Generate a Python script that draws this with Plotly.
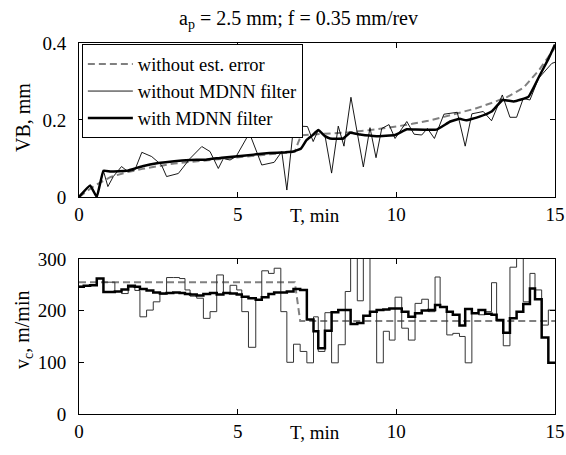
import plotly.graph_objects as go

# ---------------- data ----------------
# top panel: flank wear VB [mm] vs time T [min]
t_ref = [0, 0.5, 1.0, 1.5, 2.0, 2.5, 3.0, 3.5, 4.0, 4.5, 5.0, 5.5, 6.0, 6.5, 6.8, 6.9, 7.0,
         7.5, 8.0, 8.5, 9.0, 9.5, 10.0, 10.5, 11.0, 11.5, 12.0, 12.5, 13.0, 13.5, 14.0, 14.5, 14.8, 15.0]
vb_ref = [0, 0.030, 0.052, 0.064, 0.073, 0.080, 0.087, 0.091, 0.095, 0.100, 0.104, 0.108, 0.112, 0.115,
          0.117, 0.140, 0.160, 0.163, 0.165, 0.168, 0.172, 0.177, 0.183, 0.190, 0.198, 0.208, 0.218,
          0.230, 0.244, 0.260, 0.283, 0.330, 0.365, 0.388]

t_raw = [0, 0.35, 0.56, 0.77, 0.91, 1.08, 1.34, 1.54, 1.76, 1.98, 2.29, 2.6, 2.76, 3.13, 3.5, 3.87,
         4.13, 4.39, 4.55, 4.76, 4.95, 5.37, 5.76, 6.15, 6.39, 6.55, 6.75, 6.91, 7.2, 7.38, 7.54, 7.75,
         7.96, 8.17, 8.35, 8.57, 8.96, 9.17, 9.36, 9.54, 9.77, 9.96, 10.33, 10.56, 10.8, 10.98, 11.2,
         11.5, 11.92, 12.17, 12.38, 12.74, 13.0, 13.34, 13.58, 13.79, 14.0, 14.21, 14.48, 14.9, 15.0]
vb_raw = [0, 0.031, 0.0, 0.068, 0.027, 0.053, 0.079, 0.066, 0.070, 0.116, 0.105, 0.083, 0.053, 0.061,
          0.100, 0.131, 0.118, 0.074, 0.100, 0.096, 0.105, 0.166, 0.083, 0.090, 0.118, 0.018, 0.174,
          0.184, 0.183, 0.144, 0.174, 0.160, 0.062, 0.184, 0.132, 0.259, 0.078, 0.180, 0.102, 0.178,
          0.188, 0.152, 0.196, 0.163, 0.161, 0.178, 0.152, 0.215, 0.220, 0.132, 0.216, 0.222, 0.198,
          0.265, 0.207, 0.207, 0.256, 0.252, 0.308, 0.347, 0.350]

t_mdnn = [0, 0.35, 0.56, 0.77, 1.0, 1.5, 2.0, 2.5, 3.0, 3.5, 4.0, 4.5, 5.0, 5.5, 6.0, 6.5, 6.75, 7.0,
          7.17, 7.35, 7.54, 7.75, 7.91, 8.33, 8.54, 8.86, 9.38, 9.96, 10.33, 10.6, 11.27, 11.7, 12.0,
          12.2, 12.6, 13.0, 13.35, 13.7, 14.16, 14.5, 14.8, 15.0]
vb_mdnn = [0, 0.030, 0.0, 0.068, 0.066, 0.068, 0.080, 0.088, 0.093, 0.096, 0.097, 0.102, 0.106,
           0.110, 0.114, 0.116, 0.118, 0.126, 0.148, 0.160, 0.174, 0.158, 0.152, 0.152, 0.167, 0.162,
           0.158, 0.161, 0.176, 0.175, 0.175, 0.196, 0.203, 0.199, 0.208, 0.222, 0.252, 0.248, 0.260,
           0.313, 0.360, 0.396]

# bottom panel: cutting speed vc [m/min] vs time T [min], step signals
t_step = [0, 0.15, 0.35, 0.56, 0.77, 0.95, 1.13, 1.34, 1.55, 1.76, 1.92, 2.13, 2.34, 2.55, 2.76,
          2.97, 3.17, 3.34, 3.5, 3.71, 3.92, 4.13, 4.34, 4.55, 4.76, 4.97, 5.13, 5.34, 5.57, 5.76,
          5.97, 6.15, 6.36, 6.55, 6.76, 6.97, 7.18, 7.39, 7.54, 7.75, 7.96, 8.17, 8.39, 8.56, 8.77,
          8.96, 9.17, 9.38, 9.59, 9.78, 9.96, 10.17, 10.38, 10.59, 10.8, 11.01, 11.22, 11.38, 11.59,
          11.78, 11.99, 12.17, 12.38, 12.59, 12.8, 13.0, 13.16, 13.37, 13.58, 13.79, 14.0, 14.21,
          14.37, 14.58, 14.79, 15.0]
vc_raw = [247, 248, 250, 262, 255, 255, 237, 233, 245, 239, 188, 201, 217, 232, 264, 264, 262, 240,
          228, 224, 185, 198, 269, 235, 249, 240, 198, 129, 220, 277, 272, 282, 198, 100, 135, 121,
          99, 188, 121, 196, 99, 134, 237, 320, 219, 320, 198, 99, 160, 143, 226, 166, 143, 214, 222,
          198, 265, 207, 153, 156, 150, 99, 195, 192, 198, 254, 182, 132, 284, 320, 217, 272, 240,
          172, 201, 201]
vc_mdnn = [246, 248, 249, 262, 236, 236, 237, 241, 248, 246, 242, 239, 235, 233, 234, 235, 234, 232,
           231, 229, 232, 234, 231, 234, 233, 231, 227, 224, 221, 226, 232, 235, 235, 237, 242, 240,
           183, 160, 127, 161, 197, 201, 201, 174, 176, 190, 198, 201, 202, 204, 204, 198, 188, 195,
           200, 201, 211, 207, 198, 192, 171, 203, 195, 201, 194, 192, 182, 157, 185, 198, 213, 243,
           222, 148, 99, 99]
t_vref = [0, 6.8, 6.97, 15]
vc_ref = [255, 255, 180, 180]

# ---------------- figure ----------------
FONT = "Liberation Serif"
DASH = "7px,4px"
GREY = "#808080"

fig = go.Figure()
fig.add_trace(go.Scatter(x=t_ref, y=vb_ref, mode="lines", name="without est. error",
                         line=dict(color=GREY, width=2, dash=DASH), xaxis="x", yaxis="y"))
fig.add_trace(go.Scatter(x=t_raw, y=vb_raw, mode="lines", name="without MDNN filter",
                         line=dict(color="black", width=0.9), xaxis="x", yaxis="y"))
fig.add_trace(go.Scatter(x=t_mdnn, y=vb_mdnn, mode="lines", name="with MDNN filter",
                         line=dict(color="black", width=2.5, shape="spline", smoothing=0.3),
                         xaxis="x", yaxis="y"))

fig.add_trace(go.Scatter(x=t_vref, y=vc_ref, mode="lines", showlegend=False,
                         line=dict(color=GREY, width=2, dash=DASH), xaxis="x2", yaxis="y2"))
fig.add_trace(go.Scatter(x=t_step, y=vc_raw, mode="lines", showlegend=False,
                         line=dict(color="#333333", width=1, shape="hv"), xaxis="x2", yaxis="y2"))
fig.add_trace(go.Scatter(x=t_step, y=vc_mdnn, mode="lines", showlegend=False,
                         line=dict(color="black", width=2.5, shape="hv"), xaxis="x2", yaxis="y2"))

axis_common = dict(showline=True, linecolor="black", linewidth=1, mirror="ticks",
                   ticks="inside", ticklen=5, tickcolor="black", showgrid=False,
                   zeroline=False, automargin=False,
                   tickfont=dict(family=FONT, size=19, color="black"))

fig.update_layout(
    width=566, height=455,
    margin=dict(l=79, r=11, t=43, b=41),
    paper_bgcolor="white", plot_bgcolor="white",
    font=dict(family=FONT, size=19, color="black"),
    xaxis=dict(domain=[0, 1], anchor="y", range=[0, 15], tickvals=[0, 5, 10, 15],
               ticklabeloverflow="allow", **axis_common),
    yaxis=dict(domain=[0.585, 1], anchor="x", range=[0, 0.4], tickvals=[0, 0.2, 0.4],
               ticktext=["0", "0.2", "0.4"], ticklabelstandoff=8, **axis_common),
    xaxis2=dict(domain=[0, 1], anchor="y2", range=[0, 15], tickvals=[0, 5, 10, 15],
                ticklabeloverflow="allow", **axis_common),
    yaxis2=dict(domain=[0, 0.418], anchor="x2", range=[0, 300], tickvals=[0, 100, 200, 300],
                ticklabelstandoff=8, **axis_common),
    legend=dict(x=0.006, y=0.996, xanchor="left", yanchor="top", bgcolor="white",
                bordercolor="black", borderwidth=1, font=dict(family=FONT, size=18.5),
                itemwidth=45, tracegroupgap=0),
    showlegend=True,
)

ann = dict(showarrow=False, xref="paper", yref="paper")
fig.add_annotation(text="a<sub>p</sub> = 2.5 mm; f = 0.35 mm/rev", x=0.206, y=1.062,
                   xanchor="left", yanchor="middle",
                   font=dict(family=FONT, size=20, color="black"), **ann)
fig.add_annotation(text="VB, mm", x=-0.118, y=0.80, textangle=-90,
                   xanchor="center", yanchor="middle",
                   font=dict(family=FONT, size=20, color="black"), **ann)
fig.add_annotation(text="v<sub>c</sub>, m/min", x=-0.118, y=0.226, textangle=-90,
                   xanchor="center", yanchor="middle",
                   font=dict(family=FONT, size=20, color="black"), **ann)
fig.add_annotation(text="T, min", x=0.439, y=0.536, xanchor="left", yanchor="middle",
                   font=dict(family=FONT, size=19, color="black"), **ann)
fig.add_annotation(text="T, min", x=0.439, y=-0.05, xanchor="left", yanchor="middle",
                   font=dict(family=FONT, size=19, color="black"), **ann)

# remove the default 8 px page margin so the 566x455 figure fills the window exactly
fig.write_html("out.html", config={"displayModeBar": False},
               post_script="document.body.style.margin='0px';document.body.style.overflow='hidden';")
